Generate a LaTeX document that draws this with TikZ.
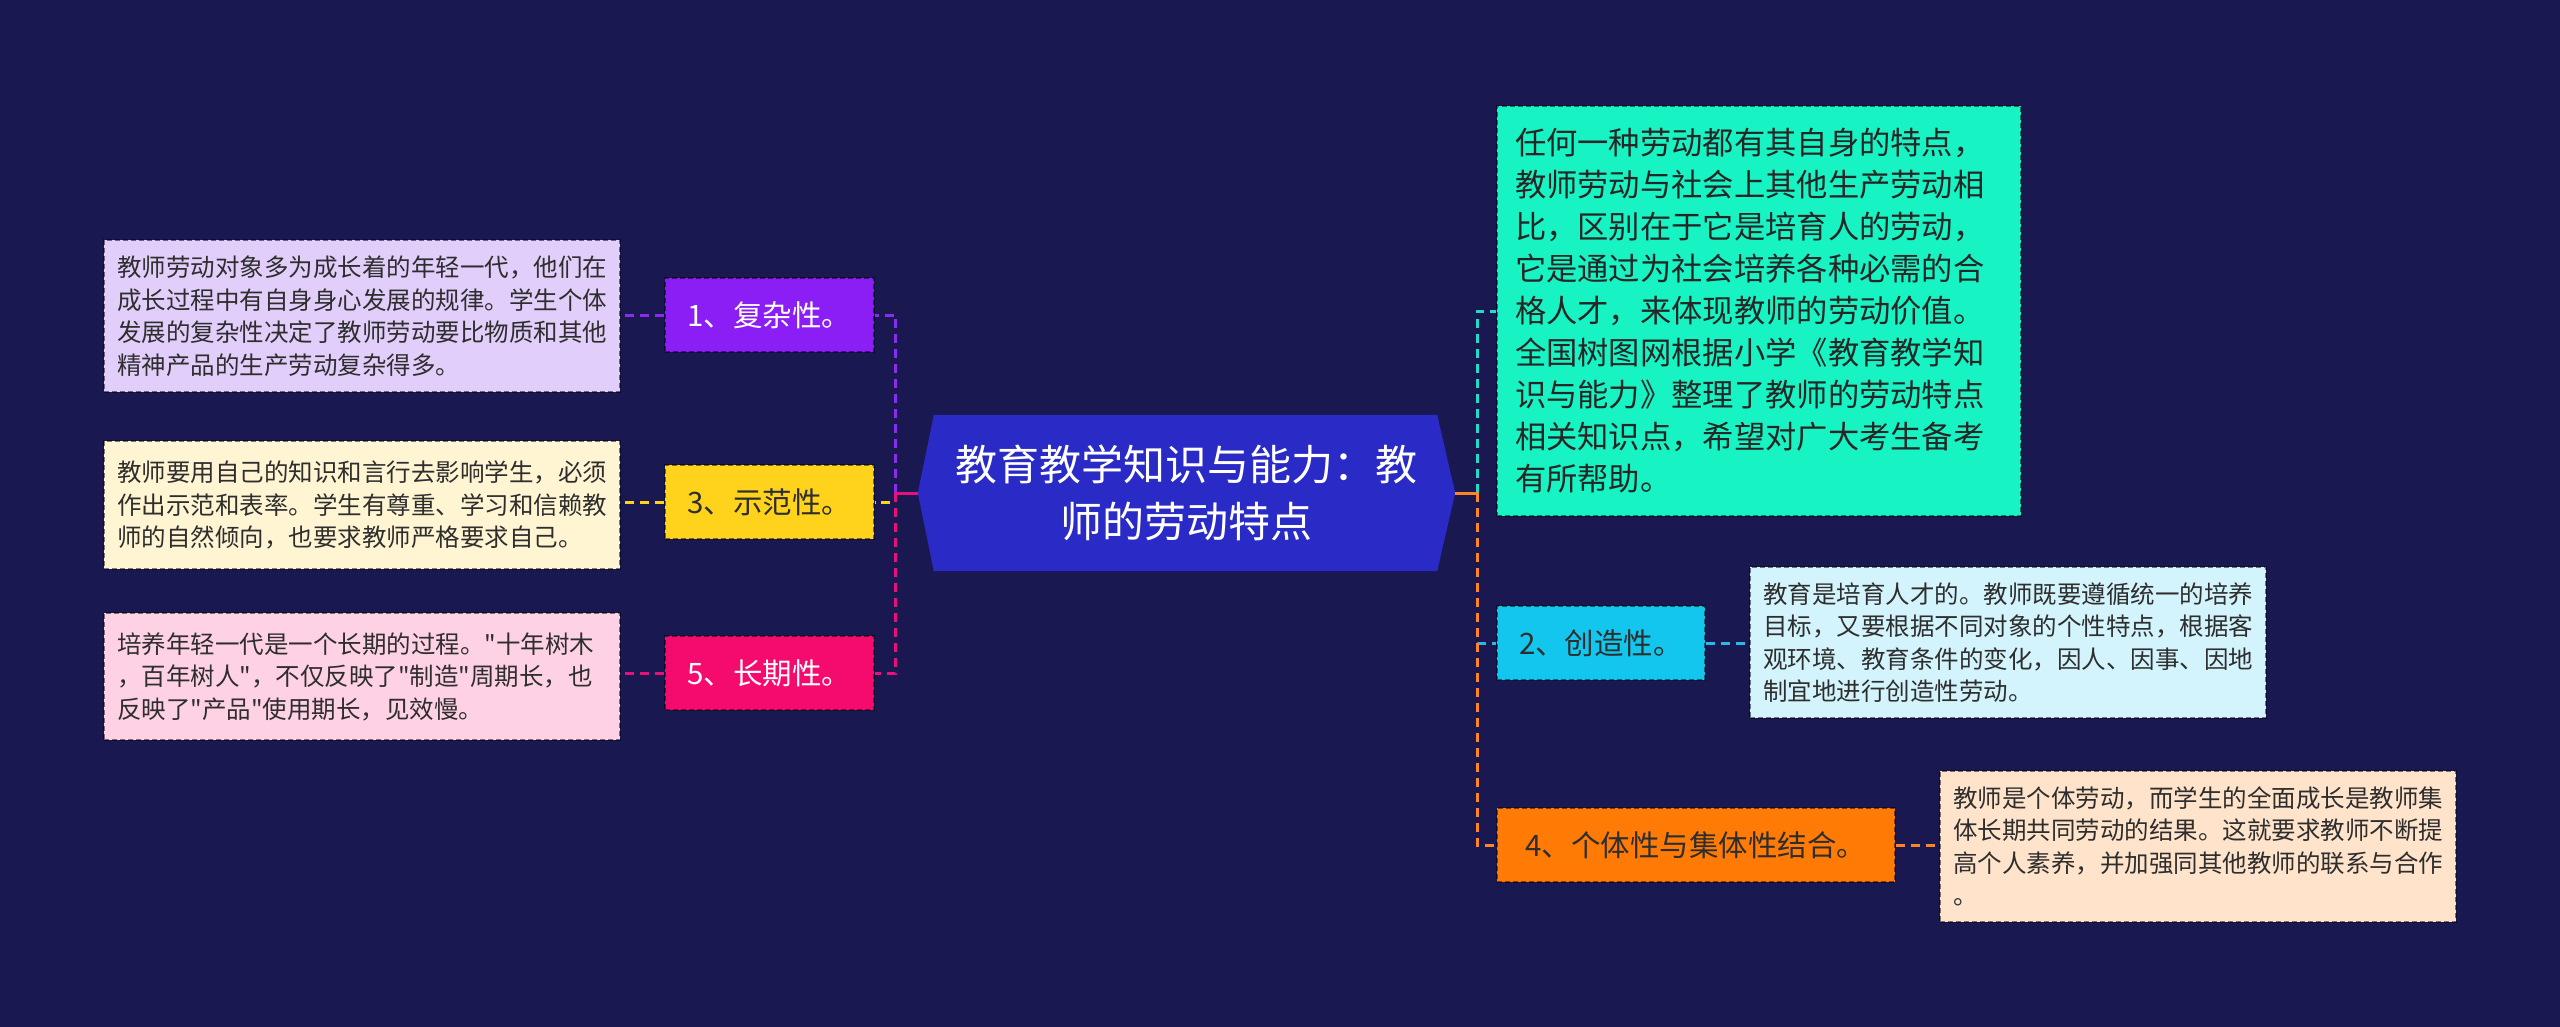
\documentclass[tikz,border=0pt]{standalone}
\usepackage{fontspec}
\setmainfont{Noto Sans CJK SC}
\newfontfamily\plainq{Noto Sans CJK SC}
\newcommand\qq{{\plainq "}}
\usetikzlibrary{backgrounds}
\definecolor{bgc}{HTML}{1A1850}
\definecolor{hexc}{HTML}{2A2AC6}
\definecolor{purc}{HTML}{8A1EF4}
\definecolor{yelc}{HTML}{FFD21C}
\definecolor{magc}{HTML}{F50A6E}
\definecolor{cyac}{HTML}{12C6EE}
\definecolor{orac}{HTML}{FF7B05}
\definecolor{teac}{HTML}{18F3C3}
\definecolor{lavc}{HTML}{E2CEFA}
\definecolor{crec}{HTML}{FFF5D3}
\definecolor{pnkc}{HTML}{FFD1E5}
\definecolor{lcyc}{HTML}{D3F4FC}
\definecolor{pchc}{HTML}{FFE4CB}
\definecolor{txtc}{HTML}{2E2E2E}
\definecolor{lnpur}{HTML}{8C2AF0}
\definecolor{lnyel}{HTML}{FFD21C}
\definecolor{lnmag}{HTML}{E8107A}
\definecolor{lntea}{HTML}{22DCC8}
\definecolor{lncya}{HTML}{2AB8E6}
\definecolor{lnora}{HTML}{FF8426}
\begin{document}
\begin{tikzpicture}[x=1pt,y=-1pt,
  border/.style={draw=black, draw opacity=0.5, dash pattern=on 5pt off 3pt, line width=1.3pt},
  catbox/.style={rectangle, fill=#1, border, inner sep=0pt, minimum height=74pt, font=\fontsize{29.5}{34}\selectfont},
  leafbox/.style={rectangle, fill=#1, border, inner xsep=13pt, inner ysep=0pt, text width=490pt, align=left, text=txtc, font=\fontsize{24.5}{32.5}\selectfont},
  conn/.style={draw=#1, line width=3pt, dash pattern=on 9pt off 6pt},
  solidconn/.style={draw=#1, line width=3pt}
]
\useasboundingbox (0,0) rectangle (2560,1027);

% central node
\node[rectangle, inner sep=0pt, minimum width=537pt, minimum height=156pt, align=center, text=white, font=\fontsize{42}{57}\selectfont] (center) at (1186.5,493) {教育教学知识与能力：教\\师的劳动特点};

\begin{pgfonlayer}{background}
\fill[bgc] (0,0) rectangle (2560,1027);
\fill[hexc] (center.west) -- ([xshift=16pt]center.north west) -- ([xshift=-18pt]center.north east) -- (center.east) -- ([xshift=-18pt]center.south east) -- ([xshift=16pt]center.south west) -- cycle;
\end{pgfonlayer}

% left category boxes
\node[catbox=purc, minimum width=209pt, text=white] (b1) at (769.5,315) {1、复杂性。};
\node[catbox=yelc, minimum width=209pt, text=txtc] (b3) at (769.5,502) {3、示范性。};
\node[catbox=magc, minimum width=209pt, text=white] (b5) at (769.5,673) {5、长期性。};

% right category boxes
\node[leafbox=teac, inner xsep=18pt, text width=488pt, minimum height=410pt, font=\fontsize{31.3}{42}\selectfont, text=black!85] (t) at (1759,311) {任何一种劳动都有其自身的特点，\\教师劳动与社会上其他生产劳动相\\比，区别在于它是培育人的劳动，\\它是通过为社会培养各种必需的合\\格人才，来体现教师的劳动价值。\\全国树图网根据小学《教育教学知\\识与能力》整理了教师的劳动特点\\相关知识点，希望对广大考生备考\\有所帮助。};
\node[catbox=cyac, minimum width=208pt, text=txtc] (b2) at (1601,643) {2、创造性。};
\node[catbox=orac, minimum width=398pt, text=txtc] (b4) at (1696,845) {4、个体性与集体性结合。};

% leaves
\node[leafbox=lavc, minimum height=152pt] (l1) at (362,316) {教师劳动对象多为成长着的年轻一代，他们在\\成长过程中有自身身心发展的规律。学生个体\\发展的复杂性决定了教师劳动要比物质和其他\\精神产品的生产劳动复杂得多。};
\node[leafbox=crec, minimum height=128pt] (l3) at (362,505) {教师要用自己的知识和言行去影响学生，必须\\作出示范和表率。学生有尊重、学习和信赖教\\师的自然倾向，也要求教师严格要求自己。};
\node[leafbox=pnkc, minimum height=127pt] (l5) at (362,676.5) {培养年轻一代是一个长期的过程。\qq 十年树木\\，百年树人\qq ，不仅反映了\qq 制造\qq 周期长，也\\反映了\qq 产品\qq 使用期长，见效慢。};
\node[leafbox=lcyc, minimum height=151pt] (l2) at (2008,642.5) {教育是培育人才的。教师既要遵循统一的培养\\目标，又要根据不同对象的个性特点，根据客\\观环境、教育条件的变化，因人、因事、因地\\制宜地进行创造性劳动。};
\node[leafbox=pchc, minimum height=151pt] (l4) at (2198,846.5) {教师是个体劳动，而学生的全面成长是教师集\\体长期共同劳动的结果。这就要求教师不断提\\高个人素养，并加强同其他教师的联系与合作\\。};

% junctions
\coordinate (jl) at ([xshift=-22pt]center.west);
\coordinate (jr) at ([xshift=22pt]center.east);

% left connectors
\draw[conn=lnpur] (jl) |- (b1.east);
\draw[conn=lnyel] (jl) |- (b3.east);
\draw[conn=lnmag] (jl) |- (b5.east);
\draw[solidconn=lnmag] (center.west) -- (jl);
\draw[conn=lnpur] (b1.west) -- (b1.west -| l1.east);
\draw[conn=lnyel] (b3.west) -- (b3.west -| l3.east);
\draw[conn=lnmag] (b5.west) -- (b5.west -| l5.east);

% right connectors
\draw[conn=lntea] (jr) |- (t.west);
\draw[conn=lncya] (jr) |- (b2.west);
\draw[conn=lnora] (jr) |- (b4.west);
\draw[solidconn=lnora] (center.east) -- (jr);
\draw[conn=lncya] (b2.east) -- (b2.east -| l2.west);
\draw[conn=lnora] (b4.east) -- (b4.east -| l4.west);
\end{tikzpicture}
\end{document}
